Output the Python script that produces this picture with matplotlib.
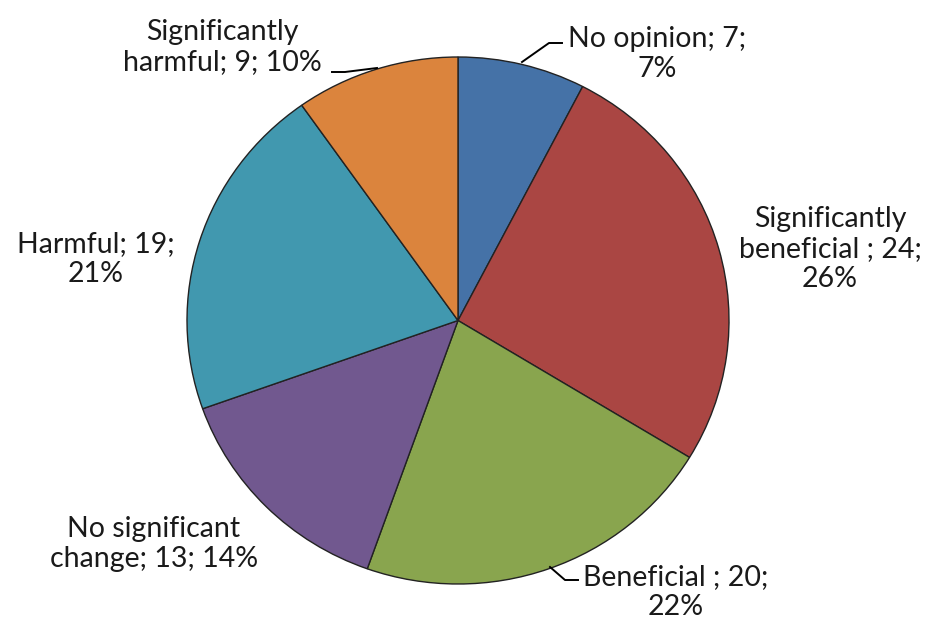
import matplotlib
matplotlib.use("Agg")
import matplotlib.pyplot as plt

categories = ["No opinion", "Significantly beneficial ", "Beneficial ",
              "No significant change", "Harmful", "Significantly harmful"]
values = [7, 24, 20, 13, 19, 9]
colors = ["#4572A7", "#AA4643", "#89A54E", "#71588F", "#4198AF", "#DB843D"]
label_texts = ["No opinion; 7;\n7%", "Significantly\nbeneficial ; 24;\n26%",
               "Beneficial ; 20;\n22%", "No significant\nchange; 13; 14%",
               "Harmful; 19;\n21%", "Significantly\nharmful; 9; 10%"]

W, H = 930, 621
fig = plt.figure(figsize=(W / 100, H / 100), dpi=100)
ax = fig.add_axes([0, 0, 1, 1])
ax.pie(values, colors=colors, startangle=90, counterclock=False,
       wedgeprops=dict(edgecolor="#222222", linewidth=1.0))
# elliptical pie matching reference extents (pixels)
cx, cy, rx, ry = 458, 320.5, 271, 263.5
ax.set_aspect("auto")
ax.set_xlim(-cx / rx, (W - cx) / rx)
ax.set_ylim(-(H - cy) / ry, cy / ry)
ax.axis("off")

# label positions in pixels (center x, middle y)
label_pos = [(657, 54), (830, 249), (676, 592), (154, 544), (96, 259), (222, 47)]
for txt, (px, py) in zip(label_texts, label_pos):
    fig.text(px / W, 1 - py / H, txt, ha="center", va="center",
             fontsize=20.5, family="Lato", color="#1a1a1a", linespacing=1.2)

# leader lines (pixels)
leaders = [
    [(522, 62), (549, 43), (562, 43)],
    [(377, 68), (345, 72), (332, 72)],
    [(550, 567), (565, 580), (578, 580)],
]
for pts in leaders:
    xs = [p[0] / W for p in pts]
    ys = [1 - p[1] / H for p in pts]
    fig.add_artist(plt.Line2D(xs, ys, color="black", linewidth=1.4))

fig.savefig("out.png", dpi=100, facecolor="white")
